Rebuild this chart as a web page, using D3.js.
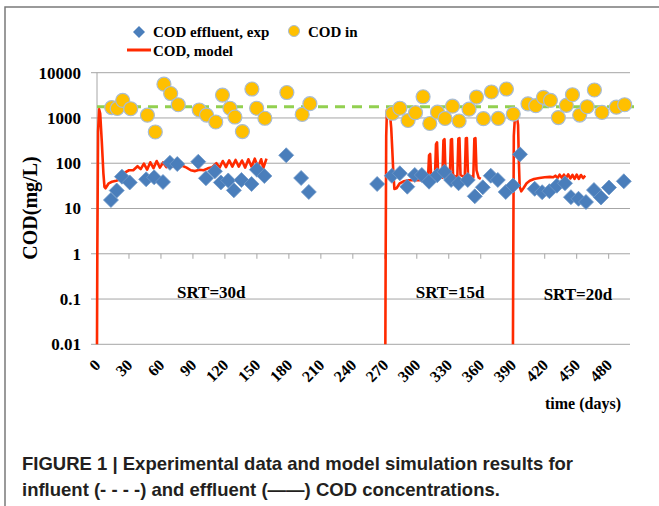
<html>
<head>
<script src="https://d3js.org/d3.v7.min.js"></script>
<style>
  body, html { margin: 0; padding: 0; background: white; }
  svg { display: block; }
  .serif { font-family: "Liberation Serif", "Times New Roman", serif; font-weight: bold; fill: #000; }
  .caption { font-family: "Liberation Sans Narrow", "Arial Narrow", "Liberation Sans", sans-serif; font-weight: bold; fill: #231f20; }
</style>
</head>
<body>
<svg id="chart" width="659" height="506"></svg>
<script>
// [day, mg/L]
const codIn = [
  [13.8, 1700], [19, 1620], [24.1, 2450], [31.6, 1600], [47.3, 1150], [54.7, 490],
  [62.8, 5570], [69.1, 3470], [76.2, 1960], [95.9, 1500], [102.8, 1160], [111.4, 815],
  [117.7, 3210], [124.7, 1640], [129.4, 1050], [136.4, 500], [145.3, 4360], [149.8, 1640],
  [157.5, 985], [178.1, 3650], [192.5, 1200], [199.7, 2070],
  [277.2, 1270], [284.1, 1640], [291.8, 880], [298.8, 1310], [305.9, 2940], [312.2, 755],
  [319.4, 1340], [326.5, 975], [333.5, 1820], [339.7, 857], [349, 1560], [356, 2900],
  [362.5, 965], [370, 3750], [376.4, 975], [384.1, 4360], [390.5, 1220],
  [404.3, 2050], [411.6, 1870], [418.8, 2860], [425.4, 2450], [432.8, 1020], [440.3, 1900],
  [446, 3260], [452.8, 1160], [459.8, 1770], [466.6, 4150], [473.7, 1330], [487.2, 1730], [495, 1960]
];

const codEffluent = [
  [13.1, 15.4], [18.5, 25], [23.4, 50.5], [30.7, 37.6], [46.1, 44.2], [53.6, 48.9],
  [61.9, 38.5], [68.4, 102], [75.3, 96], [95, 108], [102.2, 46.5], [110.6, 66.4],
  [116.2, 37.6], [123.1, 41.6], [128.4, 25.2], [135.5, 42.7], [145, 34.8], [150, 72],
  [157, 52.2], [177.5, 150], [191.5, 47.2], [198.7, 23.2],
  [262.8, 34.8], [276.6, 52.8], [284.1, 60], [291.1, 30.3], [298.1, 55], [304.7, 55],
  [311.5, 39.1], [319.2, 54.2], [326, 65], [332.2, 42.7], [339.2, 36.1], [347.8, 42.7],
  [354.4, 18.6], [361.9, 29.4], [369.4, 53], [376, 42.7], [383.4, 23.2], [390.3, 32.2],
  [396.8, 157], [410.6, 27.2], [417.6, 22.9], [424.4, 24.1], [431.4, 31.9], [439, 36.1],
  [444.6, 17.8], [451.7, 16.4], [458.7, 13.9], [466.2, 25.6], [472.8, 17.5], [480.3, 29.1],
  [494.2, 39.9]
];

const modelSrt30 = [
  [0, 0.01], [0.3, 1], [1, 500], [2, 1550], [3, 1250], [4.5, 300], [6, 60], [7, 30], [8, 28],
  [11, 36], [14, 39], [18, 41], [22, 44], [26, 62], [30, 70], [34, 70], [38, 86], [41, 74],
  [44, 98], [47, 72], [50, 105], [53, 78], [56, 112], [59, 80], [62, 104], [65, 82], [68, 108],
  [71, 84], [74, 100], [77, 80], [80, 88], [84, 80], [88, 70], [92, 67], [96, 72], [100, 70],
  [104, 77], [108, 82], [112, 100], [115, 80], [118, 112], [121, 82], [124, 116], [127, 84],
  [130, 118], [133, 84], [136, 115], [139, 80], [142, 122], [145, 84], [148, 126], [151, 82],
  [154, 122], [156, 78], [159, 126]
];

const modelSrt15 = [
  [270.5, 0.01], [270.8, 1], [271.3, 400], [272, 1500], [274, 1350], [275, 1100], [276, 600],
  [277, 200], [278, 60], [279, 27], [281, 28], [284, 36], [288, 40], [292, 42], [296, 42],
  [300, 42], [304, 42], [308, 44], [310.5, 46], [311.5, 150], [312.5, 160], [313.5, 48],
  [317, 46], [318, 260], [319, 290], [320, 55], [324, 48], [325, 320], [326, 340], [327, 55],
  [331, 48], [332, 330], [333, 340], [334, 55], [338, 48], [339, 350], [340, 360], [341, 55],
  [345, 48], [346, 355], [347, 360], [348, 55], [353, 48], [354, 350], [355, 360], [356, 70],
  [358, 48], [360, 45]
];

const modelSrt20 = [
  [390.2, 0.01], [390.5, 1], [391, 400], [392, 1000], [394, 1000], [395, 700], [395.8, 100],
  [396.5, 30], [398, 24], [400, 28], [403, 36], [406, 41], [410, 45], [415, 47], [420, 49],
  [425, 50], [428, 49], [430, 53], [432, 47], [434, 56], [436, 48], [438, 56], [440, 47],
  [442, 57], [444, 46], [446, 55], [448, 45], [450, 56], [452, 45], [454, 55], [456, 47], [458, 53]
];

const influentMean = 1780;
const influentDays = [0, 505];

const xTicks = [0, 30, 60, 90, 120, 150, 180, 210, 240, 270, 300, 330, 360, 390, 420, 450, 480];
const yTicks = [0.01, 0.1, 1, 10, 100, 1000, 10000];
const yTickLabels = ["0.01", "0.1", "1", "10", "100", "1000", "10000"];

const srtLabels = [
  { text: "SRT=30d", day: 75, value: 0.105 },
  { text: "SRT=15d", day: 299, value: 0.107 },
  { text: "SRT=20d", day: 419, value: 0.096 }
];

const svg = d3.select("#chart");

const x = d3.scaleLinear().domain([0, 500]).range([97, 630]);
const y = d3.scaleLog().domain([0.01, 10000]).range([344.3, 72.7]);

// frame
svg.append("path")
  .attr("d", "M5,506 L5,7 L659,7")
  .attr("fill", "none")
  .attr("stroke", "#7a7a7a")
  .attr("stroke-width", 1.5);

// gridlines
svg.append("g")
  .selectAll("line")
  .data(yTicks)
  .enter()
  .append("line")
  .attr("x1", 91)
  .attr("x2", x(500))
  .attr("y1", (d) => y(d))
  .attr("y2", (d) => y(d))
  .attr("stroke", "#a6a6a6")
  .attr("stroke-width", 1);

// y axis line
svg.append("line")
  .attr("x1", x(0)).attr("x2", x(0))
  .attr("y1", y(10000)).attr("y2", y(0.01))
  .attr("stroke", "#a6a6a6");

// x axis crosses at 1 (excel default for log axis)
svg.append("g")
  .selectAll("line")
  .data(xTicks.slice(1))
  .enter()
  .append("line")
  .attr("x1", (d) => x(d))
  .attr("x2", (d) => x(d))
  .attr("y1", y(1))
  .attr("y2", y(1) + 5)
  .attr("stroke", "#a6a6a6");

// y labels
svg.append("g")
  .selectAll("text")
  .data(yTicks)
  .enter()
  .append("text")
  .attr("class", "serif")
  .attr("x", 81)
  .attr("y", (d) => y(d))
  .attr("dy", "0.35em")
  .attr("text-anchor", "end")
  .style("font-size", "17px")
  .text((d, i) => yTickLabels[i]);

// x labels
svg.append("g")
  .selectAll("text")
  .data(xTicks)
  .enter()
  .append("text")
  .attr("class", "serif")
  .attr("text-anchor", "end")
  .attr("transform", (d) => `translate(${x(d) + 4.5},366) rotate(-45)`)
  .style("font-size", "16px")
  .text((d) => d);

svg.append("text")
  .attr("class", "serif")
  .attr("transform", "translate(37,208) rotate(-90)")
  .attr("text-anchor", "middle")
  .style("font-size", "20px")
  .text("COD(mg/L)");

svg.append("text")
  .attr("class", "serif")
  .attr("x", 621)
  .attr("y", 409)
  .attr("text-anchor", "end")
  .style("font-size", "16px")
  .text("time (days)");

// influent mean, dashed
svg.append("line")
  .attr("x1", x(influentDays[0]))
  .attr("x2", x(influentDays[1]))
  .attr("y1", y(influentMean))
  .attr("y2", y(influentMean))
  .attr("stroke", "#92d050")
  .attr("stroke-width", 3)
  .attr("stroke-dasharray", "10,7");

// model
const line = d3.line().x((d) => x(d[0])).y((d) => y(d[1]));
svg.append("g")
  .selectAll("path")
  .data([modelSrt30, modelSrt15, modelSrt20])
  .enter()
  .append("path")
  .attr("d", line)
  .attr("fill", "none")
  .attr("stroke", "#ff2a00")
  .attr("stroke-width", 2.6)
  .attr("stroke-linejoin", "round");

// effluent diamonds
const diamond = "M0,-7.5 L7.5,0 L0,7.5 L-7.5,0 Z";
svg.append("g")
  .selectAll("path")
  .data(codEffluent)
  .enter()
  .append("path")
  .attr("d", diamond)
  .attr("transform", (d) => `translate(${x(d[0])},${y(d[1])})`)
  .attr("fill", "#4a7ebb")
  .attr("stroke", "#6f98c8")
  .attr("stroke-width", 0.8);

// influent circles
svg.append("g")
  .selectAll("circle")
  .data(codIn)
  .enter()
  .append("circle")
  .attr("cx", (d) => x(d[0]))
  .attr("cy", (d) => y(d[1]))
  .attr("r", 7)
  .attr("fill", "#ffc000")
  .attr("stroke", "#a9bcd4")
  .attr("stroke-width", 1.2);

// SRT annotations
svg.append("g")
  .selectAll("text")
  .data(srtLabels)
  .enter()
  .append("text")
  .attr("class", "serif")
  .attr("x", (d) => x(d.day))
  .attr("y", (d) => y(d.value))
  .style("font-size", "17px")
  .text((d) => d.text);

// legend
const legend = svg.append("g").attr("class", "legend");
legend.append("path")
  .attr("d", "M0,-6 L6,0 L0,6 L-6,0 Z")
  .attr("transform", "translate(139,32)")
  .attr("fill", "#4a7ebb");
legend.append("text").attr("class", "serif").attr("x", 153).attr("y", 37)
  .style("font-size", "15px").text("COD effluent, exp");
legend.append("circle")
  .attr("cx", 294).attr("cy", 31).attr("r", 5.5)
  .attr("fill", "#ffc000").attr("stroke", "#a9bcd4");
legend.append("text").attr("class", "serif").attr("x", 308).attr("y", 37)
  .style("font-size", "15px").text("COD in");
legend.append("line")
  .attr("x1", 127).attr("x2", 151).attr("y1", 50).attr("y2", 50)
  .attr("stroke", "#ff2a00").attr("stroke-width", 3);
legend.append("text").attr("class", "serif").attr("x", 153).attr("y", 56)
  .style("font-size", "15px").text("COD, model");

// caption
svg.append("text").attr("class", "caption").attr("x", 22).attr("y", 470)
  .style("font-size", "18.5px")
  .text("FIGURE 1 | Experimental data and model simulation results for");
svg.append("text").attr("class", "caption").attr("x", 22).attr("y", 496)
  .style("font-size", "18.5px")
  .text("influent (- - - -) and effluent (\u2014\u2014) COD concentrations.");
</script>
</body>
</html>
